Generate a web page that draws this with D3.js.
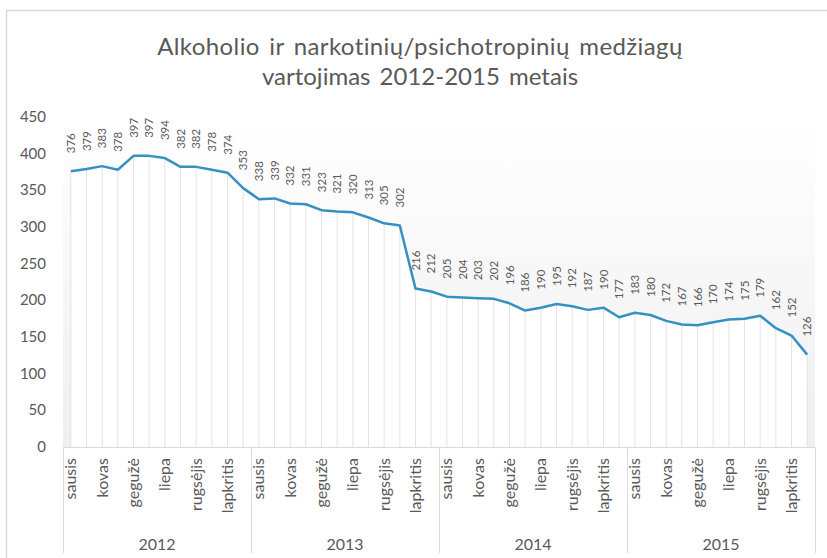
<!DOCTYPE html>
<html>
<head>
<meta charset="utf-8">
<script src="https://cdn.jsdelivr.net/npm/d3@7"></script>
<style>
  body { margin: 0; background: #fff; }
  svg text { font-family: Lato, "Open Sans", sans-serif; fill: #595959; }
</style>
</head>
<body>
<div id="chart"></div>
<script>
// months (lithuanian), every other one is labelled on the axis
var months = ["sausis", "vasaris", "kovas", "balandis", "gegužė", "birželis",
              "liepa", "rugpjūtis", "rugsėjis", "spalis", "lapkritis", "gruodis"];
var years = ["2012", "2013", "2014", "2015"];
var values2012 = [376, 379, 383, 378, 397, 397, 394, 382, 382, 378, 374, 353];
var values2013 = [338, 339, 332, 331, 323, 321, 320, 313, 305, 302, 216, 212];
var values2014 = [205, 204, 203, 202, 196, 186, 190, 195, 192, 187, 190, 177];
var values2015 = [183, 180, 172, 167, 166, 170, 174, 175, 179, 162, 152, 126];
var yTicks = [0, 50, 100, 150, 200, 250, 300, 350, 400, 450];

var allValues = [values2012, values2013, values2014, values2015];
var data = [];
years.forEach(function(yr, yi) {
    months.forEach(function(m, mi) {
        data.push({ key: yr + "-" + mi, year: yr, month: m, mi: mi, value: allValues[yi][mi] });
    });
});

var width = 827, height = 558;
var plotLeft = 63, plotRight = 815, plotTop = 117, plotBottom = 447;

var svg = d3.select("#chart").append("svg")
    .attr("width", width)
    .attr("height", height);

// outer frame
svg.append("rect")
    .attr("x", 6.5).attr("y", 10.5)
    .attr("width", 840).attr("height", 580)
    .attr("fill", "#fff")
    .attr("stroke", "#d9d9d9")
    .attr("stroke-width", 1.5);

// title
var title = svg.append("text")
    .attr("text-anchor", "middle")
    .style("font-size", "24px")
    .style("word-spacing", "3px");
title.append("tspan").attr("x", 420).attr("y", 55)
    .style("letter-spacing", "0.4px")
    .text("Alkoholio ir narkotinių/psichotropinių medžiagų");
title.append("tspan").attr("x", 420).attr("y", 85).text("vartojimas 2012-2015 metais");

var x = d3.scaleBand()
    .domain(data.map(d => d.key))
    .range([plotLeft, plotRight]);

var y = d3.scaleLinear()
    .domain([0, 450])
    .range([plotBottom, plotTop]);

var cx = d => x(d.key) + x.bandwidth() / 2;

// plot background gradient
var defs = svg.append("defs");
var grad = defs.append("linearGradient")
    .attr("id", "bg")
    .attr("x1", 0).attr("y1", 0).attr("x2", 0).attr("y2", 1);
grad.append("stop").attr("offset", "0%").attr("stop-color", "#ffffff");
grad.append("stop").attr("offset", "100%").attr("stop-color", "#efefef");

svg.append("rect")
    .attr("x", plotLeft).attr("y", plotTop)
    .attr("width", plotRight - plotLeft).attr("height", plotBottom - plotTop)
    .attr("fill", "url(#bg)");

// white area under the line
var area = d3.area()
    .x(cx)
    .y0(plotBottom)
    .y1(d => y(d.value));

svg.append("path")
    .datum(data)
    .attr("d", area)
    .attr("fill", "#ffffff");

// drop lines
svg.append("g").selectAll("line")
    .data(data)
    .join("line")
    .attr("x1", cx).attr("x2", cx)
    .attr("y1", d => y(d.value)).attr("y2", plotBottom)
    .attr("stroke", "#e3e3e3")
    .attr("stroke-width", 1);

// the series
var line = d3.line()
    .x(cx)
    .y(d => y(d.value));

svg.append("path")
    .datum(data)
    .attr("d", line)
    .attr("fill", "none")
    .attr("stroke", "#3591c2")
    .attr("stroke-width", 2.5)
    .attr("stroke-linejoin", "round");

// value labels
svg.append("g").selectAll("text")
    .data(data)
    .join("text")
    .attr("transform", d => "translate(" + (cx(d) + 4) + "," + (y(d.value) - 18) + ") rotate(-90)")
    .style("font-size", "11.5px")
    .text(d => d.value);

// y axis labels
svg.append("g").selectAll("text")
    .data(yTicks)
    .join("text")
    .attr("x", 46)
    .attr("y", d => y(d) + 5)
    .attr("text-anchor", "end")
    .style("font-size", "15px")
    .text(d => d);

// x axis line
svg.append("line")
    .attr("x1", plotLeft).attr("x2", plotRight)
    .attr("y1", plotBottom + 0.5).attr("y2", plotBottom + 0.5)
    .attr("stroke", "#d9d9d9");

// year separators
var yearBounds = years.map(yr => x(yr + "-0")).concat([plotRight]);
svg.append("g").selectAll("line")
    .data(yearBounds)
    .join("line")
    .attr("x1", d => d + 0.5).attr("x2", d => d + 0.5)
    .attr("y1", plotBottom).attr("y2", 553)
    .attr("stroke", "#d9d9d9");

// month labels
svg.append("g").selectAll("text")
    .data(data.filter(d => d.mi % 2 === 0))
    .join("text")
    .attr("transform", d => "translate(" + (cx(d) + 5.5) + "," + 458 + ") rotate(-90)")
    .attr("text-anchor", "end")
    .style("font-size", "16px")
    .text(d => d.month);

// year labels
svg.append("g").selectAll("text")
    .data(years)
    .join("text")
    .attr("x", (d, i) => (yearBounds[i] + yearBounds[i + 1]) / 2)
    .attr("y", 550)
    .attr("text-anchor", "middle")
    .style("font-size", "16px")
    .text(d => d);
</script>
</body>
</html>
